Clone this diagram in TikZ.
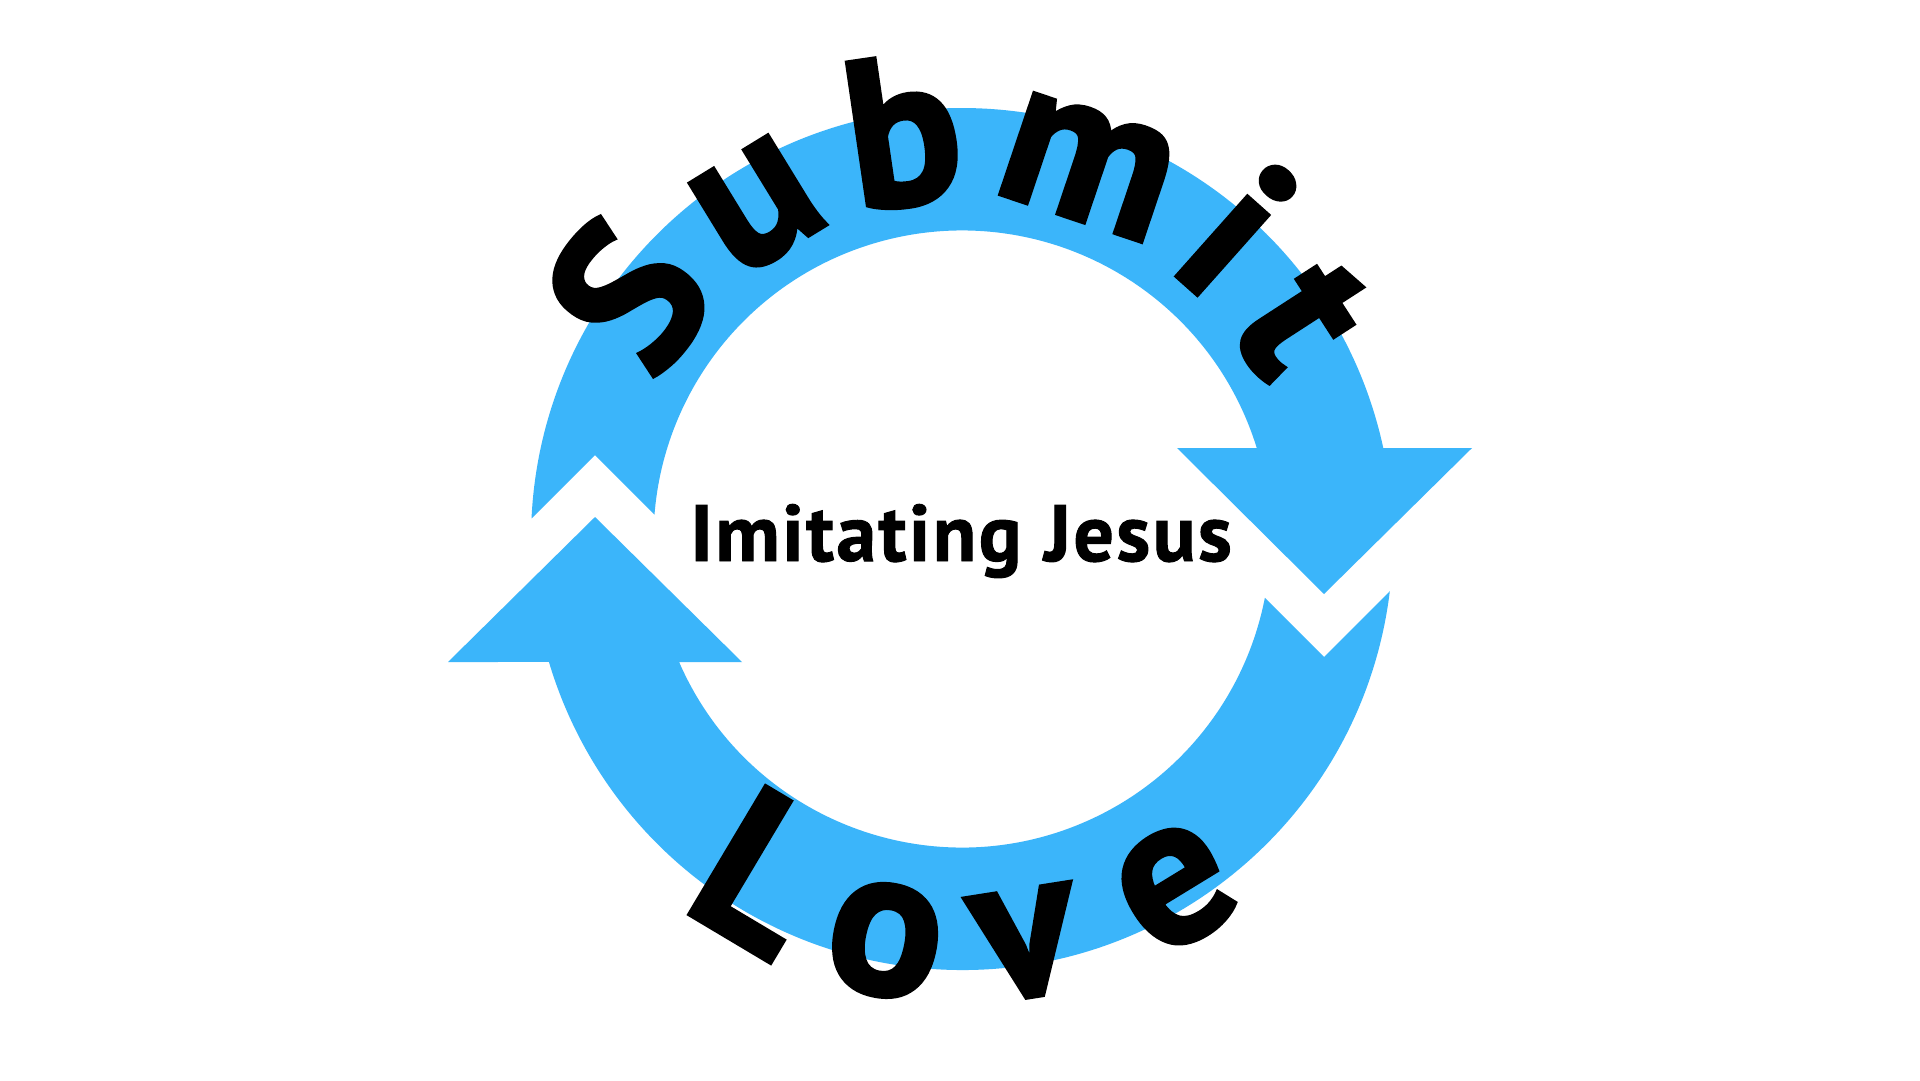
\documentclass[tikz,border=0pt]{standalone}
\usepackage{fontspec}
\setmainfont{PT Sans}
\newfontfamily\heavyfont{PT Sans}[BoldFeatures={FakeBold=2}]
\newfontfamily\midfont{PT Sans}[BoldFeatures={FakeBold=1.2, LetterSpace=3}]
\usetikzlibrary{calc}
\definecolor{ringblue}{RGB}{59,181,250}
\tikzset{
  ringfill/.style={fill=ringblue, draw=none},
  arcletter/.style={font=\heavyfont\fontsize{213}{213}\selectfont\bfseries, anchor=base, inner sep=0pt, text=black},
  centertext/.style={font=\midfont\fontsize{80}{80}\selectfont\bfseries, anchor=base, inner sep=0pt, text=black}
}
\begin{document}
\begin{tikzpicture}[x=1pt,y=-1pt]
\useasboundingbox (0,0) rectangle (1920,1080);
\fill[white] (0,0) rectangle (1920,1080);
\coordinate (C) at (962,539);
% top arrow (clockwise, head pointing down on the right)
\coordinate (tnotch) at (595,455);
\coordinate (tbl) at (1177,448);
\coordinate (tbr) at (1472,448);
\coordinate (ttip) at (1324,594);
\fill[ringfill] (tnotch) -- ($(C)+(-177.27:431)$)
  arc[start angle=-177.27, end angle=-12.19, radius=431]
  -- (tbr) -- (ttip) -- (tbl) -- ($(C)+(-17.155:308.5)$)
  arc[start angle=-17.155, end angle=-175.45, radius=308.5] -- cycle;
% bottom arrow (clockwise, head pointing up on the left)
\coordinate (bnotch) at (1324,657);
\coordinate (bbl) at (448,662);
\coordinate (bbr) at (742,662);
\coordinate (btip) at (595,517);
\fill[ringfill] (bnotch) -- ($(C)+(6.957:431)$)
  arc[start angle=6.957, end angle=163.42, radius=431]
  -- (bbl) -- (btip) -- (bbr) -- ($(C)+(156.50:308.5)$)
  arc[start angle=156.50, end angle=10.99, radius=308.5] -- cycle;
% Submit
\node[arcletter, rotate=53.8]  (s1) at ($(C)+(-143.8:339)$) {S};
\node[arcletter, rotate=31.5]  (s2) at ($(C)+(-121.5:339)$) {u};
\node[arcletter, rotate=8.3]   (s3) at ($(C)+(-98.3:339)$) {b};
\node[arcletter, rotate=-18.6] (s4) at ($(C)+(-71.4:339)$) {m};
\node[arcletter, rotate=-41.65] (s5) at ($(C)+(-48.35:339)$) {i};
\node[arcletter, rotate=-57.1] (s6) at ($(C)+(-32.9:339)$) {t};
% Love
\node[arcletter, rotate=-30.8]  (l1) at ($(C)+(120.8:462)$) {L};
\node[arcletter, rotate=-10.85] (l2) at ($(C)+(100.85:462)$) {o};
\node[arcletter, rotate=8.93]   (l3) at ($(C)+(81.07:462)$) {v};
\node[arcletter, rotate=31.44]  (l4) at ($(C)+(58.56:462)$) {e};
% centre
\node[centertext] (mid) at (961,561) {Imitating Jesus};
\end{tikzpicture}
\end{document}
